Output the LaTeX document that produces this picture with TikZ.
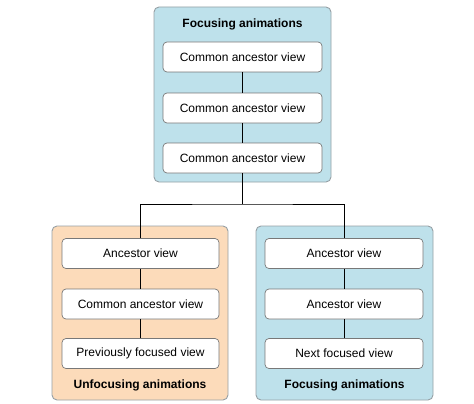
\documentclass[tikz,border=0pt]{standalone}
\usepackage{fontspec}
\setmainfont{Liberation Sans}
\definecolor{cblue}{RGB}{190,225,235}
\definecolor{corange}{RGB}{252,219,186}
\definecolor{cborder}{RGB}{150,160,165}
\definecolor{iborder}{RGB}{120,120,120}
\begin{document}
\begin{tikzpicture}[x=1pt,y=-1pt,
  container/.style={draw=cborder,line width=0.9pt,rounded corners=5pt},
  viewbox/.style={draw=iborder,fill=white,line width=0.7pt,rounded corners=4pt,minimum height=30pt,inner sep=0pt,font=\fontsize{12}{14}\selectfont},
  grouptitle/.style={font=\fontsize{12}{14}\selectfont\bfseries,inner sep=0pt},
  link/.style={draw=black,line width=0.9pt}]
\useasboundingbox (0,0) rectangle (474,404);
% containers
\path[container,fill=cblue] (154,7) rectangle (331,182);
\path[container,fill=corange] (52,226) rectangle (228,400);
\path[container,fill=cblue] (256,226) rectangle (433,400);
% titles
\node[grouptitle] (tt) at (242.5,24) {Focusing animations};
\node[grouptitle] (lt) at (140,385) {Unfocusing animations};
\node[grouptitle] (rt) at (344.5,385) {Focusing animations};
% connectors (drawn first, boxes cover them)
\coordinate (j) at (242.5,204);
% top boxes
\node[viewbox,minimum width=159pt] (t1) at (242.5,57) {Common ancestor view};
\node[viewbox,minimum width=159pt] (t2) at (242.5,108) {Common ancestor view};
\node[viewbox,minimum width=159pt] (t3) at (242.5,158) {Common ancestor view};
% left boxes
\node[viewbox,minimum width=157pt] (l1) at (140.5,253.5) {Ancestor view};
\node[viewbox,minimum width=157pt] (l2) at (140.5,304) {Common ancestor view};
\node[viewbox,minimum width=157pt] (l3) at (140.5,353.5) {Previously focused view};
% right boxes
\node[viewbox,minimum width=158pt] (r1) at (344,253.5) {Ancestor view};
\node[viewbox,minimum width=158pt] (r2) at (344,304) {Ancestor view};
\node[viewbox,minimum width=158pt] (r3) at (344,353.5) {Next focused view};
% links
\draw[link] (t1) -- (t2);
\draw[link] (t2) -- (t3);
\draw[link] (t3) -- (j);
\draw[link] (l1.north) |- (j) -| (r1.north);
\draw[link] (l1) -- (l2);
\draw[link] (l2) -- (l3);
\draw[link] (r1) -- (r2);
\draw[link] (r2) -- (r3);
\end{tikzpicture}
\end{document}
